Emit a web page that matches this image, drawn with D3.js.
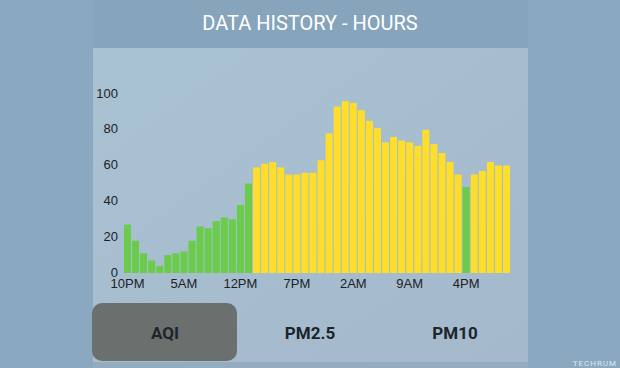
<!DOCTYPE html>
<html>
<head>
<meta charset="utf-8">
<script src="https://cdn.jsdelivr.net/npm/d3@7"></script>
<style>
  html, body { margin: 0; padding: 0; background: #8aa8c0; }
  svg { display: block; font-family: Roboto, "Noto Sans", sans-serif; }
  .tick text { fill: #1c2226; font-size: 13px; }
</style>
</head>
<body>
<svg id="chart" width="620" height="368"></svg>
<script>
/* =======================================================================
   Data History - Hours (AQI)
   ======================================================================= */

/* Data
======================================================================= */
var hours = [
  '10PM', '11PM', '12AM', '1AM', '2AM', '3AM', '4AM', '5AM', '6AM', '7AM', '8AM', '9AM',
  '10AM', '11AM', '12PM', '1PM', '2PM', '3PM', '4PM', '5PM', '6PM', '7PM', '8PM', '9PM',
  '10PM', '11PM', '12AM', '1AM', '2AM', '3AM', '4AM', '5AM', '6AM', '7AM', '8AM', '9AM',
  '10AM', '11AM', '12PM', '1PM', '2PM', '3PM', '4PM', '5PM', '6PM', '7PM', '8PM', '9PM'
];

var aqi = [
  27, 18, 11, 7, 4, 10, 11, 12, 18, 26, 25, 29,
  31, 30, 38, 50, 59, 61, 62, 59, 55, 55, 56, 56,
  63, 78, 93, 96, 95, 91, 85, 81, 73, 76, 74, 73,
  71, 80, 72, 67, 62, 55, 48, 55, 57, 62, 60, 60
];

var yTicks = [0, 20, 40, 60, 80, 100], // Y axis tick values
    xTickIndex = [0, 7, 14, 21, 28, 35, 42], // Which hours get a label
    tabs = ['AQI', 'PM2.5', 'PM10']; // Buttons under the chart

/* Variables
======================================================================= */
var svg = d3.select('#chart'),
    W = 620,
    H = 368,
    panel = { x: 93, y: 48, w: 435, h: 314 }, // Light card behind the chart
    plot = { left: 124, right: 510, top: 94, bottom: 273 }, // Bar area
    green = '#6bcb4b',
    yellow = '#fedd2b';

/* Background
======================================================================= */
var defs = svg.append('defs');

var grad = defs.append('linearGradient')
  .attr('id', 'panelGrad')
  .attr('x1', 0).attr('y1', 0).attr('x2', 1).attr('y2', 1);
grad.append('stop').attr('offset', '0%').attr('stop-color', '#a9c2d2');
grad.append('stop').attr('offset', '100%').attr('stop-color', '#a4b9cc');

// Header band behind the title
svg.append('rect')
  .attr('x', panel.x).attr('y', 0)
  .attr('width', panel.w).attr('height', panel.y)
  .attr('fill', '#86a4bc');

// The card
svg.append('rect')
  .attr('x', panel.x).attr('y', panel.y)
  .attr('width', panel.w).attr('height', panel.h)
  .attr('fill', 'url(#panelGrad)');

// Darker strip under the card
svg.append('rect')
  .attr('x', panel.x).attr('y', panel.y + panel.h)
  .attr('width', panel.w).attr('height', H - panel.y - panel.h)
  .attr('fill', '#93acc0');

// Title
svg.append('text')
  .attr('x', 310).attr('y', 30)
  .attr('text-anchor', 'middle')
  .attr('fill', '#ffffff')
  .style('font-size', '20px')
  .text('DATA HISTORY - HOURS');

/* Scales & Axes
======================================================================= */
var x = d3.scaleBand()
  .domain(d3.range(aqi.length))
  .range([plot.left, plot.right])
  .paddingInner(0.13)
  .paddingOuter(0);

var y = d3.scaleLinear()
  .domain([0, 100])
  .range([plot.bottom, plot.top]);

// Y axis, labels only
svg.append('g')
  .attr('transform', 'translate(' + (plot.left - 6) + ',-1)')
  .call(d3.axisLeft(y).tickValues(yTicks).tickSize(0).tickPadding(0))
  .call(function(g) { g.select('.domain').remove(); });

// X axis, one label every 7 hours
svg.append('g')
  .attr('transform', 'translate(0,' + (plot.bottom + 4) + ')')
  .call(d3.axisBottom(x)
    .tickValues(xTickIndex)
    .tickFormat(function(i) { return hours[i]; })
    .tickSize(0)
    .tickPadding(2))
  .call(function(g) { g.select('.domain').remove(); });

/* Bars
======================================================================= */
svg.append('g')
  .selectAll('rect')
  .data(aqi)
  .enter().append('rect')
    .attr('x', function(d, i) { return x(i); })
    .attr('y', function(d) { return y(d); })
    .attr('width', x.bandwidth())
    .attr('height', function(d) { return y(0) - y(d); })
    .attr('fill', function(d) { return d <= 50 ? green : yellow; }); // AQI colour band

/* Tabs
======================================================================= */
var tabX = d3.scalePoint()
  .domain(tabs)
  .range([165, 455]);

// Selected tab background
svg.append('rect')
  .attr('x', 92).attr('y', 303)
  .attr('width', 145).attr('height', 58)
  .attr('rx', 10).attr('ry', 10)
  .attr('fill', '#6b6f6d');

svg.append('g')
  .selectAll('text')
  .data(tabs)
  .enter().append('text')
    .attr('x', function(d) { return tabX(d); })
    .attr('y', 339)
    .attr('text-anchor', 'middle')
    .attr('fill', '#1b252b')
    .style('font-size', '17px')
    .style('font-weight', 'bold')
    .text(function(d) { return d; });

// Watermark
svg.append('text')
  .attr('x', 617).attr('y', 366)
  .attr('text-anchor', 'end')
  .attr('fill', '#dfe8ef')
  .style('font-size', '8px')
  .style('letter-spacing', '1px')
  .text('TECHRUM');
</script>
</body>
</html>
